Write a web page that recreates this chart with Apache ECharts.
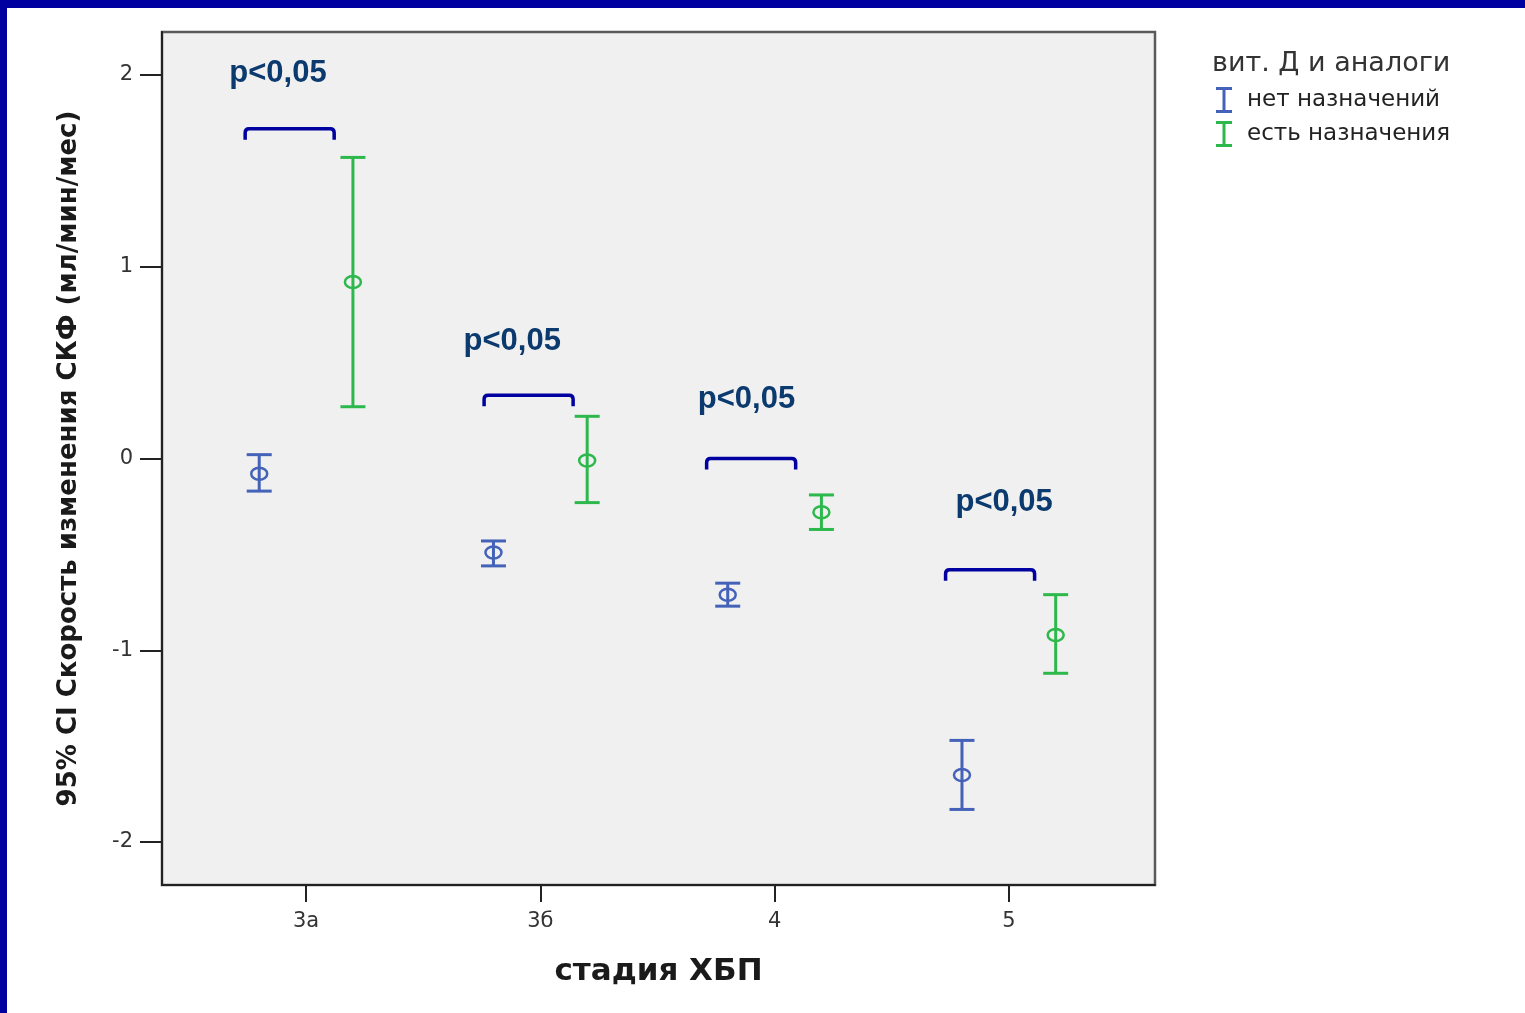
<!DOCTYPE html>
<html>
<head>
<meta charset="utf-8">
<script src="https://cdn.jsdelivr.net/npm/echarts@6/dist/echarts.min.js"></script>
<style>
  html, body { margin: 0; padding: 0; background: #ffffff; }
  #chart { width: 1525px; height: 1013px; }
</style>
</head>
<body>
<div id="chart"></div>
<script>
// CKD stages on the category axis
const stages = ['3а', '3б', '4', '5'];
const groupNames = ['нет назначений', 'есть назначения'];

// 95% CI of the GFR change rate, ml/min/month
const meanNone = [-0.08, -0.49, -0.71, -1.65];
const lowNone  = [-0.17, -0.56, -0.77, -1.83];
const highNone = [0.02, -0.43, -0.65, -1.47];

const meanGiven = [0.92, -0.01, -0.28, -0.92];
const lowGiven  = [0.27, -0.23, -0.37, -1.12];
const highGiven = [1.57, 0.22, -0.19, -0.71];

// significance notes per stage
const pLabels = ['p<0,05', 'p<0,05', 'p<0,05', 'p<0,05'];
const bracketFrom = [-0.26, -0.24, -0.29, -0.27];
const bracketTo   = [0.12, 0.14, 0.09, 0.11];
const bracketY    = [1.72, 0.33, 0.0, -0.58];
const pLabelX     = [-0.12, -0.12, -0.12, -0.02];
const pLabelY     = [2.01, 0.61, 0.31, -0.23];

const yTicks = [-2, -1, 0, 1, 2];
const xTicks = [0, 1, 2, 3];

const BLUE = '#4462B8';
const GREEN = '#2DB84C';
const NAVY = '#0000A0';
const SPSS_FONT = 'DejaVu Sans';
const GROUP_SHIFT = 0.2;

function errorRows(shift, low, high, mean) {
  return stages.map((_, i) => [i + shift, low[i], high[i], mean[i]]);
}

function renderErrorBar(params, api) {
  const x = api.value(0);
  const top = api.coord([x, api.value(2)]);
  const bot = api.coord([x, api.value(1)]);
  const mid = api.coord([x, api.value(3)]);
  const hw = 12.5;
  const style = { stroke: api.visual('color'), lineWidth: 3, fill: null };
  return {
    type: 'group',
    children: [
      { type: 'line', shape: { x1: top[0], y1: top[1], x2: bot[0], y2: bot[1] }, style },
      { type: 'line', shape: { x1: top[0] - hw, y1: top[1], x2: top[0] + hw, y2: top[1] }, style },
      { type: 'line', shape: { x1: bot[0] - hw, y1: bot[1], x2: bot[0] + hw, y2: bot[1] }, style },
      { type: 'ellipse', shape: { cx: mid[0], cy: mid[1], rx: 8, ry: 6 },
        style: { stroke: api.visual('color'), lineWidth: 2.5, fill: null } }
    ]
  };
}

function renderBracket(params, api) {
  const a = api.coord([api.value(0), api.value(2)]);
  const b = api.coord([api.value(1), api.value(2)]);
  const leg = 11, r = 4;
  const y = a[1];
  const d = 'M' + a[0] + ' ' + (y + leg) +
    ' L' + a[0] + ' ' + (y + r) +
    ' Q' + a[0] + ' ' + y + ' ' + (a[0] + r) + ' ' + y +
    ' L' + (b[0] - r) + ' ' + y +
    ' Q' + b[0] + ' ' + y + ' ' + b[0] + ' ' + (y + r) +
    ' L' + b[0] + ' ' + (y + leg);
  return {
    type: 'path',
    shape: { pathData: d },
    style: { stroke: NAVY, lineWidth: 3.5, fill: null, lineJoin: 'round' }
  };
}

function renderPLabel(params, api) {
  const p = api.coord([api.value(0), api.value(1)]);
  return {
    type: 'text',
    x: p[0], y: p[1],
    style: {
      text: pLabels[params.dataIndex],
      font: 'bold 31px "Liberation Sans", Arial, sans-serif',
      fill: '#0B3A6E',
      align: 'center',
      verticalAlign: 'middle'
    }
  };
}

const chart = echarts.init(document.getElementById('chart'), null, { renderer: 'canvas' });

chart.setOption({
  animation: false,
  backgroundColor: '#ffffff',
  graphic: [
    { type: 'rect', left: 0, top: 0, shape: { width: 1525, height: 8 }, style: { fill: NAVY }, z: 100 },
    { type: 'rect', left: 0, top: 0, shape: { width: 7, height: 1013 }, style: { fill: NAVY }, z: 100 },
    {
      type: 'text', left: 1212, top: 50,
      style: { text: 'вит. Д и аналоги', font: '27px "DejaVu Sans"', fill: '#333333' }
    }
  ],
  legend: {
    orient: 'vertical',
    left: 1211,
    top: 82,
    itemWidth: 16,
    itemHeight: 26,
    itemGap: 8,
    icon: 'path://M0,0H16V3H9.5V23H16V26H0V23H6.5V3H0Z',
    data: groupNames,
    textStyle: {
      fontFamily: SPSS_FONT,
      fontSize: 23,
      color: '#222222',
      padding: [0, 0, 0, 10]
    }
  },
  grid: {
    left: 162,
    top: 32,
    right: 370,
    bottom: 128,
    show: true,
    backgroundColor: '#F0F0F0',
    borderColor: '#5A5A5A',
    borderWidth: 2.5
  },
  xAxis: {
    type: 'value',
    min: -0.615,
    max: 3.624,
    name: 'стадия ХБП',
    nameLocation: 'middle',
    nameGap: 71,
    nameTextStyle: { fontFamily: SPSS_FONT, fontSize: 31, fontWeight: 'bold', color: '#1a1a1a' },
    axisLine: { show: true, onZero: false, lineStyle: { color: '#222222', width: 2 } },
    axisTick: { show: true, length: 17, customValues: xTicks, lineStyle: { color: '#222222', width: 2 } },
    axisLabel: {
      customValues: xTicks,
      margin: 26,
      fontFamily: SPSS_FONT,
      fontSize: 21,
      color: '#333333',
      formatter: v => stages[Math.round(v)]
    },
    splitLine: { show: false }
  },
  yAxis: {
    type: 'value',
    min: -2.224,
    max: 2.224,
    name: '95% CI Скорость изменения СКФ (мл/мин/мес)',
    nameLocation: 'middle',
    nameGap: 80,
    nameRotate: 90,
    nameTextStyle: { fontFamily: SPSS_FONT, fontSize: 26, fontWeight: 'bold', color: '#1a1a1a' },
    axisLine: { show: true, onZero: false, lineStyle: { color: '#222222', width: 2 } },
    axisTick: { show: true, length: 22, customValues: yTicks, lineStyle: { color: '#222222', width: 2 } },
    axisLabel: {
      customValues: yTicks,
      margin: 29,
      fontFamily: SPSS_FONT,
      fontSize: 21,
      color: '#333333'
    },
    splitLine: { show: false }
  },
  series: [
    {
      name: groupNames[0],
      type: 'custom',
      color: BLUE,
      renderItem: renderErrorBar,
      encode: { x: 0, y: [1, 2, 3] },
      data: errorRows(-GROUP_SHIFT, lowNone, highNone, meanNone),
      z: 3
    },
    {
      name: groupNames[1],
      type: 'custom',
      color: GREEN,
      renderItem: renderErrorBar,
      encode: { x: 0, y: [1, 2, 3] },
      data: errorRows(GROUP_SHIFT, lowGiven, highGiven, meanGiven),
      z: 3
    },
    {
      name: 'brackets',
      type: 'custom',
      renderItem: renderBracket,
      encode: { x: [0, 1], y: 2 },
      data: stages.map((_, i) => [i + bracketFrom[i], i + bracketTo[i], bracketY[i]]),
      silent: true,
      z: 4
    },
    {
      name: 'pvalues',
      type: 'custom',
      renderItem: renderPLabel,
      encode: { x: 0, y: 1 },
      data: stages.map((_, i) => [i + pLabelX[i], pLabelY[i]]),
      silent: true,
      z: 5
    }
  ]
});
</script>
</body>
</html>
